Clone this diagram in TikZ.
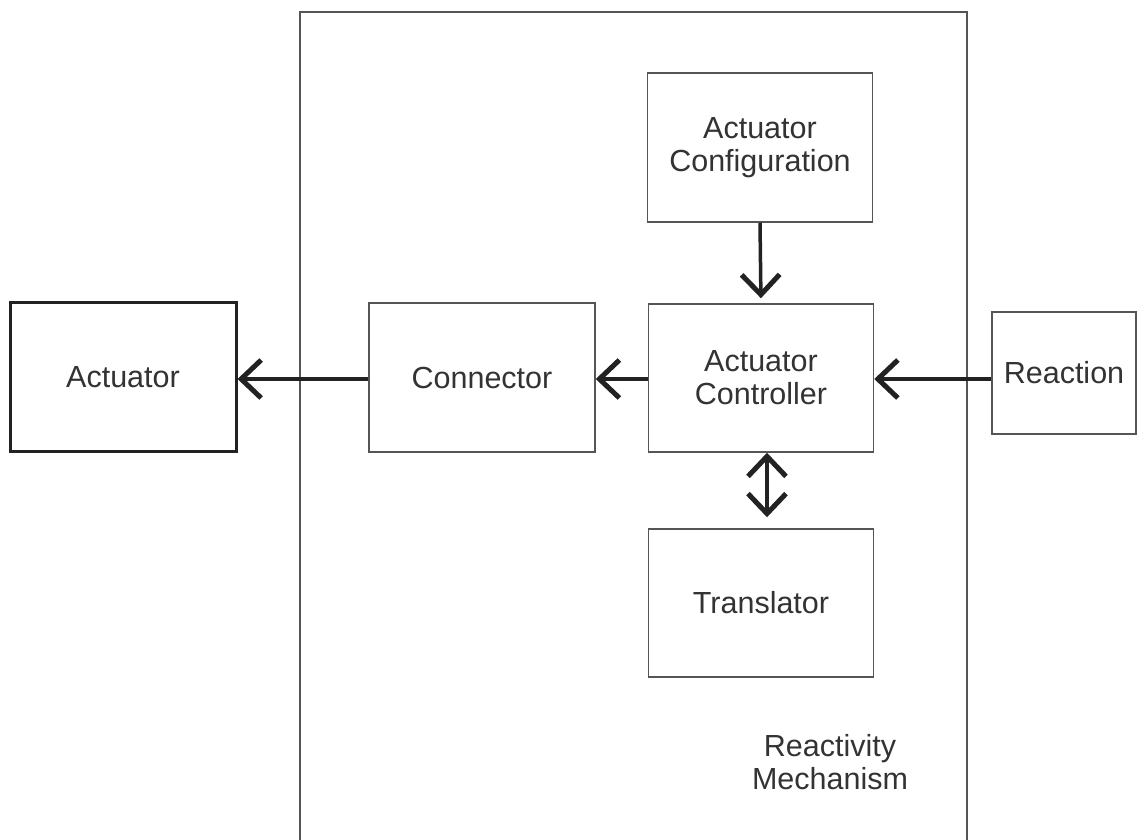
\documentclass[tikz,border=0pt]{standalone}
\usepackage{fontspec}
\setmainfont{Liberation Sans}
\usetikzlibrary{arrows.meta}
\definecolor{inkdark}{HTML}{222222}
\definecolor{inktext}{HTML}{333333}
\definecolor{inkline}{HTML}{555555}
\begin{document}
\begin{tikzpicture}[x=1pt,y=-1pt,
  font=\fontsize{30.5}{33}\selectfont,
  block/.style={draw=inkline, line width=1.5pt, text=inktext, inner sep=0pt,
                align=center, minimum width=#1},
  block/.default=225pt,
  heavy/.style={draw=inkdark, line width=3pt},
  barb/.tip={Straight Barb[length=20pt,width=38pt,line width=5pt]},
  flow/.style={draw=inkdark, line width=3.5pt, -barb},
  twoflow/.style={flow, barb-barb}
]
\useasboundingbox (0,0) rectangle (1138,840);
\fill[white] (0,0) rectangle (1138,840);

% enclosing mechanism frame (open at the bottom)
\draw[inkline, line width=1.5pt] (300,850) -- (300,12) -- (967,12) -- (967,850);

% blocks
\node[block=226pt, heavy, minimum height=149pt] (act) at (123,377) {Actuator};
\node[block=226pt, minimum height=149pt] (conn) at (482,377.5) {Connector};
\node[block, minimum height=148pt] (ctrl) at (761,378) {Actuator\\Controller};
\node[block, minimum height=149pt] (conf) at (760,147.5) {Actuator\\Configuration};
\node[block, minimum height=148pt] (trans) at (761,603) {Translator};
\node[block=144pt, minimum height=122pt] (react) at (1064,373) {Reaction};
\node[text=inktext, align=center] (mech) at (830,762) {Reactivity\\Mechanism};

% connectors
\draw[flow] (conn.west |- 0,379) -- (act.east |- 0,379);
\draw[flow] (ctrl.west |- 0,379) -- (conn.east |- 0,379);
\draw[flow] (react.west |- 0,379) -- (ctrl.east |- 0,379);
\draw[flow, shorten >=5pt] (conf.south) -- (ctrl.north);
\draw[twoflow, shorten >=11pt] ([xshift=6pt]ctrl.south) -- ([xshift=6pt]trans.north);
\end{tikzpicture}
\end{document}
